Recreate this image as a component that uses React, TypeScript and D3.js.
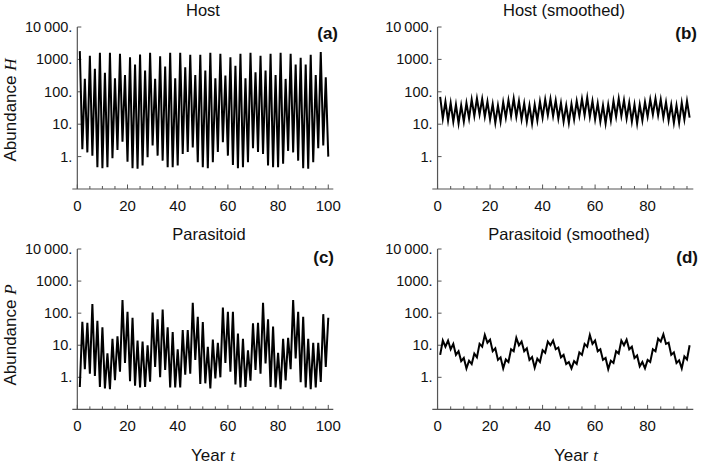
import React from "react";
import * as d3 from "d3";

// Raw host abundance, t = 1..100
const hostRaw: number[] = [
  1800, 1.7, 250, 1.35, 1300, 1.07, 510, 0.47, 1600, 0.44,
  385, 0.47, 1600, 0.89, 260, 1.6, 1480, 2.9, 330, 0.7,
  1170, 0.44, 690, 0.42, 1410, 0.53, 450, 0.95, 1600, 2.2,
  250, 1.07, 1250, 0.75, 600, 0.47, 1600, 0.47, 260, 0.53,
  1600, 1.2, 570, 1.4, 1380, 1.9, 330, 0.67, 1380, 0.47,
  450, 0.44, 1600, 0.67, 260, 1.4, 1500, 2.8, 320, 1.07,
  1170, 0.55, 640, 0.44, 1480, 0.47, 260, 0.67, 1600, 1.8,
  400, 1.4, 1300, 1.2, 450, 0.53, 1480, 0.47, 330, 0.47,
  1600, 0.6, 250, 1.5, 1480, 1.35, 700, 0.75, 1130, 0.44,
  700, 0.42, 1380, 0.67, 330, 1.8, 1700, 2.2, 280, 1.0,
];

// Raw parasitoid abundance, t = 1..100
const parasitoidRaw: number[] = [
  0.5, 54, 1.8, 50, 1.3, 192, 1.1, 58, 0.5, 36,
  0.45, 5.6, 0.43, 16, 0.82, 19, 1.5, 255, 2.8, 110,
  0.75, 72, 0.55, 14, 0.48, 13, 0.5, 10, 0.73, 105,
  2.1, 64, 1.0, 130, 1.7, 36, 0.48, 26, 0.48, 7.4,
  0.48, 30, 1.2, 30, 1.3, 210, 3.5, 77, 0.62, 53,
  0.65, 9, 0.45, 15, 0.93, 12, 1.0, 150, 2.8, 110,
  1.5, 110, 0.6, 23, 0.48, 16, 0.5, 7, 0.78, 48,
  1.7, 50, 1.3, 210, 2.7, 64, 0.5, 38, 0.48, 5.8,
  0.43, 16, 0.8, 17, 1.8, 255, 3.9, 110, 0.7, 77,
  0.48, 16, 0.43, 12, 0.48, 12, 0.72, 93, 2.1, 72,
];

// Smoothed host abundance, t = 1..96
const hostSmoothed: number[] = [
  70, 15, 50, 13, 45, 12, 40, 10.5, 38, 12,
  45, 15, 58, 18, 62, 20, 60, 17, 50, 14,
  42, 11, 38, 12, 48, 16, 55, 18, 62, 17,
  52, 14, 44, 12, 38, 10.5, 40, 13, 50, 16,
  58, 19, 60, 18, 54, 15, 45, 12, 38, 11,
  42, 14, 52, 18, 60, 19, 66, 17, 52, 14,
  44, 12, 38, 10.5, 40, 13, 52, 17, 62, 18,
  55, 15, 46, 12, 40, 10.5, 40, 13, 48, 17,
  58, 20, 62, 19, 58, 16, 48, 13, 40, 11,
  38, 11, 46, 14, 52, 16,
];

// Smoothed parasitoid abundance, t = 1..96
const parasitoidSmoothed: number[] = [
  5, 14, 9, 14, 7.5, 11, 5, 6.5, 3.2, 4,
  1.9, 3.3, 2.6, 5.5, 4.2, 11, 9, 21, 12, 15,
  6.5, 8, 3.5, 4.2, 1.9, 3.6, 3, 7.5, 6.5, 17,
  10, 13, 6.5, 8, 3.5, 4.3, 2.0, 3.8, 3, 7,
  5.8, 13, 10, 14, 7.5, 8.5, 4.2, 5, 2.6, 3,
  1.9, 3.2, 2.6, 6, 5, 11, 9, 21, 11, 14,
  6.5, 7.5, 3.5, 4, 1.8, 3.3, 2.8, 6.5, 5.5, 14,
  10, 15, 7.5, 9, 4, 4.8, 2.2, 3, 1.9, 3.5,
  3, 7.5, 6.5, 16, 13, 22, 11, 12, 5, 6,
  2.8, 3.4, 1.9, 4.5, 3.6, 10,
];

const yTickValues: number[] = [1, 10, 100, 1000, 10000];
const yTickLabels: string[] = ["1.", "10.", "100.", "1000.", "10\u2009000."];
const xMajorLong: number[] = [0, 20, 40, 60, 80, 100];
const xMajorShort: number[] = [0, 20, 40, 60, 80];

const FONT = "'Liberation Sans', Arial, Helvetica, sans-serif";
const SERIF = "'Liberation Serif', 'Times New Roman', serif";
const AXIS_COLOR = "#555";

type PanelProps = {
  data: number[];
  xDomain: [number, number];
  xRange: [number, number];
  yRange: [number, number]; // [bottom, top]
  majors: number[];
  minorMax: number;
  title: string;
  titleX: number;
  titleY: number;
  tag: string;
  tagX: number;
  tagY: number;
};

function Panel(p: PanelProps) {
  const x = d3.scaleLinear().domain(p.xDomain).range(p.xRange);
  const y = d3.scaleLog().domain([0.1, 10000]).range(p.yRange);
  const line = d3
    .line<number>()
    .x((_, i) => x(i + 1))
    .y((v) => y(v));
  const x0 = x(0);
  const yb = y(0.1);
  const minors = d3.range(0, p.minorMax + 0.001, 5);
  return (
    <g>
      <text x={p.titleX} y={p.titleY} textAnchor="middle" fontSize={16.5} fontFamily={FONT} fill="#111">
        {p.title}
      </text>
      <text x={p.tagX} y={p.tagY} textAnchor="end" fontSize={17} fontWeight="bold" fontFamily={FONT} fill="#111">
        {p.tag}
      </text>
      {/* axes */}
      <line x1={p.xRange[0]} x2={p.xRange[1]} y1={yb} y2={yb} stroke={AXIS_COLOR} strokeWidth={1.2} />
      <line x1={x0} x2={x0} y1={yb} y2={y(10000)} stroke={AXIS_COLOR} strokeWidth={1.2} />
      {minors.map((t) => (
        <line key={"m" + t} x1={x(t)} x2={x(t)} y1={yb} y2={yb - (t % 20 === 0 ? 4.5 : 3)} stroke={AXIS_COLOR} strokeWidth={1} />
      ))}
      {p.majors.map((t) => (
        <text key={"xl" + t} x={x(t)} y={yb + 22} textAnchor="middle" fontSize={15} fontFamily={FONT} fill="#111">
          {t}
        </text>
      ))}
      {yTickValues.map((v, i) => (
        <g key={"y" + v}>
          <line x1={x0} x2={x0 + 4} y1={y(v)} y2={y(v)} stroke={AXIS_COLOR} strokeWidth={1} />
          <text x={x0 - 5} y={y(v)} dy="0.35em" textAnchor="end" fontSize={14.5} fontFamily={FONT} fill="#111">
            {yTickLabels[i]}
          </text>
        </g>
      ))}
      <path d={line(p.data) || ""} fill="none" stroke="#000" strokeWidth={2} strokeLinejoin="miter" strokeMiterlimit={10} />
    </g>
  );
}

export default function App() {
  const xA: [number, number] = [72.3, 333.3];
  const xB: [number, number] = [432.3, 693.3];
  const top: [number, number] = [189, 27];
  const bot: [number, number] = [409.4, 249];
  return (
    <div style={{ position: "fixed", left: 0, top: 0 }}>
      <svg width={709} height={468} style={{ display: "block", background: "#fff" }}>
        <Panel data={hostRaw} xDomain={[-2, 102]} xRange={xA} yRange={top} majors={xMajorLong} minorMax={100}
          title="Host" titleX={203} titleY={16} tag="(a)" tagX={338} tagY={39} />
        <Panel data={hostSmoothed} xDomain={[-2, 97.4]} xRange={xB} yRange={top} majors={xMajorShort} minorMax={95}
          title="Host (smoothed)" titleX={564} titleY={16} tag="(b)" tagX={697} tagY={39} />
        <Panel data={parasitoidRaw} xDomain={[-2, 102]} xRange={xA} yRange={bot} majors={xMajorLong} minorMax={100}
          title="Parasitoid" titleX={209} titleY={240} tag="(c)" tagX={334} tagY={263} />
        <Panel data={parasitoidSmoothed} xDomain={[-2, 97.4]} xRange={xB} yRange={bot} majors={xMajorShort} minorMax={95}
          title="Parasitoid (smoothed)" titleX={569} titleY={240} tag="(d)" tagX={698} tagY={263} />
        <text transform="translate(16,110) rotate(-90)" textAnchor="middle" fontSize={17} fontFamily={FONT} fill="#111">
          Abundance <tspan fontFamily={SERIF} fontStyle="italic">H</tspan>
        </text>
        <text transform="translate(16,335) rotate(-90)" textAnchor="middle" fontSize={17} fontFamily={FONT} fill="#111">
          Abundance <tspan fontFamily={SERIF} fontStyle="italic">P</tspan>
        </text>
        <text x={213} y={461} textAnchor="middle" fontSize={17} fontFamily={FONT} fill="#111">
          Year <tspan fontFamily={SERIF} fontStyle="italic">t</tspan>
        </text>
        <text x={576} y={461} textAnchor="middle" fontSize={17} fontFamily={FONT} fill="#111">
          Year <tspan fontFamily={SERIF} fontStyle="italic">t</tspan>
        </text>
      </svg>
    </div>
  );
}
